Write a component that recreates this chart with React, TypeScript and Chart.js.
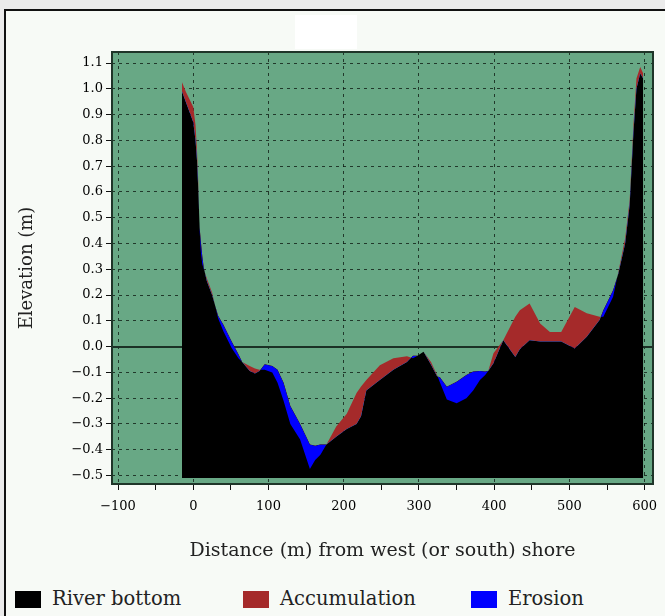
import React, { useEffect, useRef } from 'react';
import { Chart, registerables } from 'chart.js';

Chart.register(...registerables);

// Distance from the west (or south) shore, metres
const distance = [
  -15, -10, -5, 0, 3, 5, 6.5, 8.5, 10, 12, 14, 18, 25, 33, 40, 51, 60, 65, 75, 82, 88,
  95, 105, 112, 120, 129, 142, 155, 162, 169, 177, 190, 204, 217, 223, 230, 248, 266,
  284, 292, 298, 306, 316, 324, 328, 337, 350, 363, 372, 381, 388, 392, 399, 412, 428,
  434, 447, 461, 474, 489, 507, 523, 540, 545, 558, 565, 574, 580, 585, 589, 594, 598,
];

// Earlier survey of the river bed (m)
const bedBefore = [
  0.99, 0.95, 0.91, 0.87, 0.8, 0.72, 0.62, 0.46, 0.41, 0.35, 0.305, 0.255, 0.2, 0.12,
  0.085, 0.02, -0.03, -0.06, -0.095, -0.104, -0.095, -0.068, -0.075, -0.09, -0.14,
  -0.23, -0.3, -0.38, -0.385, -0.38, -0.38, -0.35, -0.32, -0.3, -0.27, -0.17, -0.13,
  -0.09, -0.06, -0.035, -0.035, -0.02, -0.07, -0.115, -0.12, -0.156, -0.136, -0.11,
  -0.097, -0.095, -0.097, -0.095, -0.065, 0.025, -0.04, -0.01, 0.025, 0.02, 0.02, 0.02,
  -0.007, 0.038, 0.103, 0.141, 0.219, 0.284, 0.4, 0.55, 0.83, 1.0, 1.06, 1.04,
];

// Later survey of the river bed (m)
const bedAfter = [
  1.026, 0.99, 0.96, 0.93, 0.86, 0.76, 0.65, 0.45, 0.37, 0.32, 0.3, 0.265, 0.21, 0.11,
  0.06, -0.005, -0.045, -0.06, -0.075, -0.085, -0.09, -0.09, -0.1, -0.14, -0.21, -0.3,
  -0.36, -0.475, -0.44, -0.42, -0.38, -0.31, -0.26, -0.18, -0.155, -0.13, -0.072, -0.045,
  -0.037, -0.045, -0.035, -0.02, -0.06, -0.11, -0.14, -0.205, -0.22, -0.2, -0.17, -0.13,
  -0.11, -0.095, -0.026, 0.025, 0.116, 0.141, 0.167, 0.09, 0.057, 0.057, 0.154, 0.129,
  0.116, 0.116, 0.193, 0.29, 0.42, 0.57, 0.86, 1.04, 1.085, 1.06,
];

const xTickValues = [-100, -50, 0, 50, 100, 150, 200, 250, 300, 350, 400, 450, 500, 550, 600];
const yTickValues = [-0.5, -0.4, -0.3, -0.2, -0.1, 0, 0.1, 0.2, 0.3, 0.4, 0.5, 0.6, 0.7, 0.8, 0.9, 1.0, 1.1];
const legendLabels = ['River bottom', 'Accumulation', 'Erosion'];

const X_MIN = -108;
const X_MAX = 611;
const Y_MIN = -0.533;
const Y_MAX = 1.143;
const FILL_BASE = -0.51;

const BLACK = '#000000';
const RED = '#a52a2a';
const BLUE = '#0000ff';
const GREEN = '#68a885';
const legendColors = [BLACK, RED, BLUE];
const FONT = '"DejaVu Serif", serif';

const minus = (s: string) => s.replace('-', '\u2212');

const plotDecor = {
  id: 'plotDecor',
  beforeDraw(chart: any) {
    const { ctx, chartArea: a } = chart;
    ctx.save();
    ctx.fillStyle = GREEN;
    ctx.fillRect(a.left, a.top, a.right - a.left, a.bottom - a.top);
    ctx.restore();
  },
  beforeDatasetsDraw(chart: any) {
    const { ctx, chartArea: a } = chart;
    const y = Math.round(chart.scales.y.getPixelForValue(0));
    ctx.save();
    ctx.strokeStyle = '#1b3125';
    ctx.lineWidth = 2;
    ctx.beginPath();
    ctx.moveTo(a.left, y);
    ctx.lineTo(a.right, y);
    ctx.stroke();
    ctx.restore();
  },
  afterDatasetsDraw(chart: any) {
    const { ctx, chartArea: a } = chart;
    ctx.save();
    ctx.strokeStyle = '#1f3529';
    ctx.lineWidth = 2;
    ctx.strokeRect(a.left, a.top, a.right - a.left, a.bottom - a.top);
    ctx.restore();
  },
};

export default function App() {
  const canvasRef = useRef<HTMLCanvasElement | null>(null);

  useEffect(() => {
    const canvas = canvasRef.current;
    if (!canvas) return;
    const before = distance.map((d, i) => ({ x: d, y: bedBefore[i] }));
    const after = distance.map((d, i) => ({ x: d, y: bedAfter[i] }));

    const chart = new Chart(canvas, {
      type: 'line',
      data: {
        datasets: [
          {
            label: 'After',
            data: after,
            order: 1,
            borderColor: 'rgba(0,0,0,0)',
            borderWidth: 1,
            pointRadius: 0,
            tension: 0,
            fill: { target: 1, above: RED, below: BLUE },
          },
          {
            label: 'Before',
            data: before,
            order: 2,
            borderColor: 'rgba(0,0,0,0)',
            borderWidth: 1,
            pointRadius: 0,
            tension: 0,
            backgroundColor: BLACK,
            fill: { value: FILL_BASE },
          },
        ],
      },
      options: {
        responsive: false,
        animation: false,
        events: [],
        layout: { padding: { top: 52, right: 12, bottom: 0, left: 0 } },
        plugins: {
          legend: { display: false },
          tooltip: { enabled: false },
          title: { display: false },
        },
        scales: {
          x: {
            type: 'linear',
            min: X_MIN,
            max: X_MAX,
            afterBuildTicks: (scale: any) => {
              scale.ticks = xTickValues.map((v) => ({ value: v }));
            },
            afterFit: (scale: any) => {
              scale.height = 96;
              scale.paddingLeft = 0;
              scale.paddingRight = 0;
            },
            ticks: {
              autoSkip: false,
              maxRotation: 0,
              padding: 9,
              color: '#000',
              font: { family: FONT, size: 13 },
              callback: (v: any) => (Number(v) % 100 === 0 ? minus(String(v)) : ''),
            },
            grid: {
              color: (ctx: any) =>
                ctx.tick && ctx.tick.value % 100 === 0 ? 'rgba(10,20,14,0.75)' : 'rgba(0,0,0,0)',
              lineWidth: 1,
              drawTicks: true,
              tickLength: 6,
              tickColor: '#111',
              tickWidth: 1,
              tickBorderDash: [],
            },
            border: { display: false, dash: [3, 4] },
            title: {
              display: true,
              text: 'Distance (m) from west (or south) shore',
              color: '#222',
              font: { family: FONT, size: 19 },
              padding: { top: 4, bottom: 18 },
            },
          },
          y: {
            type: 'linear',
            min: Y_MIN,
            max: Y_MAX,
            afterBuildTicks: (scale: any) => {
              scale.ticks = yTickValues.map((v) => ({ value: v }));
            },
            afterFit: (scale: any) => {
              scale.width = 112;
              scale.paddingTop = 0;
              scale.paddingBottom = 0;
            },
            ticks: {
              padding: 3,
              color: '#000',
              font: { family: FONT, size: 13 },
              callback: (v: any) => minus(Number(v).toFixed(1)),
            },
            grid: {
              color: 'rgba(10,20,14,0.75)',
              lineWidth: 1,
              drawTicks: true,
              tickLength: 6,
              tickColor: '#111',
              tickWidth: 1,
              tickBorderDash: [],
            },
            border: { display: false, dash: [3, 4] },
            title: {
              display: true,
              text: 'Elevation (m)',
              color: '#222',
              font: { family: FONT, size: 18 },
              padding: { top: 17, bottom: 0 },
            },
          },
        },
      } as any,
      plugins: [plotDecor],
    });

    return () => chart.destroy();
  }, []);

  return (
    <div
      style={{
        position: 'fixed',
        left: 0,
        top: 0,
        width: 665,
        height: 616,
        overflow: 'hidden',
        background: '#ebebeb',
      }}
    >
      <div
        style={{
          position: 'absolute',
          left: 4,
          top: 9,
          width: 720,
          height: 720,
          borderLeft: '2px solid #111',
          borderTop: '2px solid #111',
          background: '#f7faf6',
        }}
      />
      <div
        style={{ position: 'absolute', left: 295, top: 15, width: 62, height: 34, background: '#ffffff' }}
      />
      <canvas
        ref={canvasRef}
        width={665}
        height={580}
        style={{ position: 'absolute', left: 0, top: 0, width: 665, height: 580 }}
      />
      {legendLabels.map((label, i) => (
        <div
          key={label}
          style={{
            position: 'absolute',
            left: 15 + i * 228,
            top: 587,
            height: 24,
            display: 'flex',
            alignItems: 'center',
            whiteSpace: 'nowrap',
          }}
        >
          <span
            style={{ display: 'inline-block', width: 26, height: 17, background: legendColors[i], marginRight: 11 }}
          />
          <span style={{ fontFamily: FONT, fontSize: 19.5, color: '#222', lineHeight: '24px' }}>{label}</span>
        </div>
      ))}
    </div>
  );
}
